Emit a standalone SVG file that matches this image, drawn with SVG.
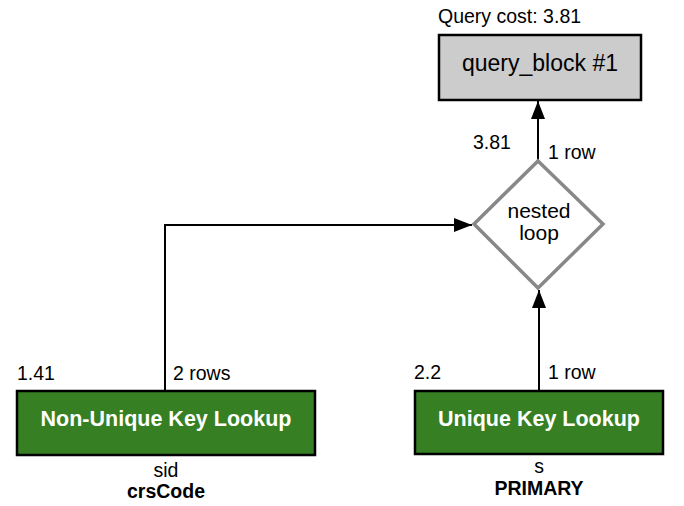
<svg xmlns="http://www.w3.org/2000/svg" width="684" height="506" viewBox="0 0 684 506">
<style>
text{font-family:"Liberation Sans",Arial,sans-serif;fill:#000}
.lbl{font-size:19.5px}
.bold{font-weight:bold}
.op{fill:#367f23;stroke:#000;stroke-width:2.5}
.op-t{font-size:21.5px;font-weight:bold;fill:#fff;text-anchor:middle}
.edge{stroke:#000;stroke-width:2;fill:none}
.mid{text-anchor:middle}
</style>
<defs>
<marker id="ah" markerWidth="18" markerHeight="14" refX="18" refY="7" orient="auto" markerUnits="userSpaceOnUse">
<path d="M0,0 L18,7 L0,14 Z" fill="#000"/>
</marker>
</defs>
<rect width="684" height="506" fill="#fff"/>
<g id="connectors">
<path class="edge" d="M538,160 L538,101" marker-end="url(#ah)"/>
<path class="edge" d="M165,391 L165,225 L472,225" marker-end="url(#ah)"/>
<path class="edge" d="M539,391 L539,290" marker-end="url(#ah)"/>
<text class="lbl" x="473" y="149">3.81</text>
<text class="lbl" x="548" y="159">1 row</text>
<text class="lbl" x="17" y="380">1.41</text>
<text class="lbl" x="173" y="380">2 rows</text>
<text class="lbl" x="414" y="379">2.2</text>
<text class="lbl" x="548" y="379">1 row</text>
</g>
<g id="query_block">
<text class="lbl" x="438" y="23">Query cost: 3.81</text>
<rect x="439" y="35" width="202" height="65" fill="#cccccc" stroke="#000" stroke-width="2.5"/>
<text x="540" y="71" class="mid" font-size="23">query_block #1</text>
</g>
<g id="nested_loop">
<polygon points="538,161 603,224 538,288 474,224" fill="#fff" stroke="#888" stroke-width="3.5"/>
<text x="539" y="218" class="mid" font-size="21">nested</text>
<text x="539" y="240" class="mid" font-size="21">loop</text>
</g>
<g id="non_unique_lookup">
<rect class="op" x="17" y="391" width="298" height="64"/>
<text class="op-t" x="166" y="426">Non-Unique Key Lookup</text>
<text class="lbl mid" x="166" y="477">sid</text>
<text class="lbl mid bold" x="166" y="498">crsCode</text>
</g>
<g id="unique_lookup">
<rect class="op" x="415" y="391" width="248" height="63"/>
<text class="op-t" x="539" y="426">Unique Key Lookup</text>
<text class="lbl mid" x="539" y="473">s</text>
<text class="lbl mid bold" x="539" y="495">PRIMARY</text>
</g>
</svg>
